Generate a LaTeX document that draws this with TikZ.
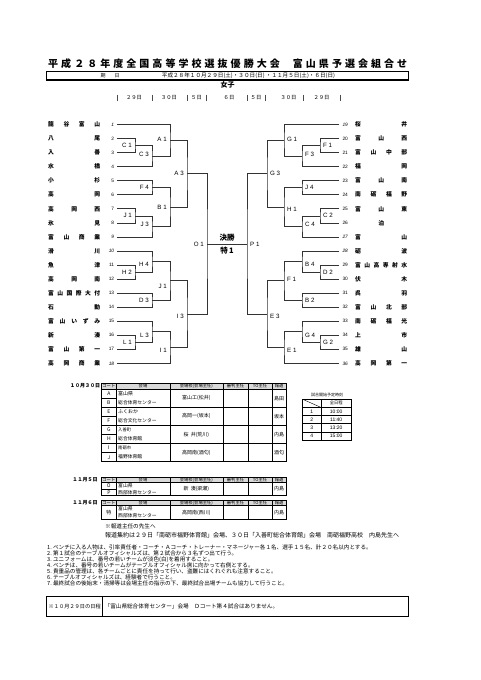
\documentclass[tikz,border=0pt]{standalone}
\usepackage{fontspec}
\setmainfont{Noto Sans CJK JP}
\newfontfamily\lat{Liberation Sans}
\usetikzlibrary{calc}
\def\gobbleone#1{}
\def\spA#1#2{#1\ifx\relax#2\expandafter\gobbleone\else\hfill\fi\spA#2}
\newcommand\spr[1]{\spA#1\relax}
\newcommand\fsz[1]{\fontsize{#1}{#1}\selectfont}
\begin{document}
\begin{tikzpicture}[x=1pt,y=-1pt,
  br/.style={draw=black!80,line width=0.65pt},
  hbar/.style={draw=black!70,line width=0.6pt},
  lname/.style={anchor=west,inner sep=0pt,font=\fsz{5.8}\bfseries},
  numL/.style={anchor=east,inner sep=0pt,font=\lat\fsz{4.8}},
  numR/.style={anchor=west,inner sep=0pt,font=\lat\fsz{4.8}},
  lbl/.style={inner sep=0pt,font=\lat\fsz{6.2}},
  lblL/.style={lbl,anchor=east,xshift=-3pt},
  lblR/.style={lbl,anchor=west,xshift=3pt},
  hd/.style={inner sep=0pt,font=\fsz{5.3}},
  tb/.style={inner sep=0pt,font=\fsz{5}},
  th/.style={inner sep=0pt,font=\fsz{4.3}},
  tl/.style={inner sep=0pt,anchor=west,font=\fsz{4.8}},
  day/.style={inner sep=0pt,anchor=center,font=\fsz{5}\bfseries},
  note/.style={inner sep=0pt,anchor=west,font=\fsz{5.6}},
  outer/.style={draw=black,line width=1.1pt},
  mid/.style={draw=black,line width=0.7pt},
  thin/.style={draw=black,line width=0.4pt}]
\useasboundingbox (0,0) rectangle (481,680);
\fill[white] (0,0) rectangle (481,680);

% ---------- title ----------
\node[anchor=west,inner sep=0pt,font=\fsz{10}\bfseries] (title) at (48,63.5)
  {\makebox[359pt][s]{\spr{平成２８年度全国高等学校選抜優勝大会}\hfill\hspace{7pt}\hfill\spr{富山県予選会組合せ}}};
\draw[outer] (46.7,71.5) rectangle (408.3,80);
\node[inner sep=0pt,font=\fsz{5}] (kijitsu) at (110,75.8) {期\hspace{9pt}日};
\node[inner sep=0pt,font=\fsz{5.6}] (dates) at (248.5,75.8) {平成２８年１０月２９日(土)・３０日(日)\ ・１１月５日(土)・６日(日)};
\node[inner sep=0pt,font=\fsz{7}\bfseries] (joshi) at (227.5,84.5) {女子};

% ---------- day header ----------
\foreach \xx in {117,152,187,206,247,265,303,340} \draw[hbar] (\xx,94.5) -- (\xx,101);
\node[hd] (h29L) at (134,97.7) {２９日};
\node[hd] (h30L) at (169,97.7) {３０日};
\node[hd] (h5L) at (196.5,97.7) {５日};
\node[hd] (h6) at (229,97.7) {６日};
\node[hd] (h5R) at (256,97.7) {５日};
\node[hd] (h30R) at (288.5,97.7) {３０日};
\node[hd] (h29R) at (321.5,97.7) {２９日};

% ---------- teams left ----------
\foreach \k/\nm/\sh in {1/龍谷富山/\itshape,2/八尾/\upshape,3/入善/\upshape,4/水橋/\upshape,5/小杉/\upshape,6/高岡/\upshape,7/高岡西/\upshape,8/氷見/\upshape,9/富山商業/\itshape,10/滑川/\itshape,11/魚津/\upshape,12/高岡南/\upshape,13/富山国際大付/\upshape,14/石動/\upshape,15/富山いずみ/\upshape,16/新湊/\upshape,17/富山第一/\upshape,18/高岡商業/\itshape}{
  \pgfmathsetmacro\yy{124.5+(\k-1)*14.05}
  \coordinate (t\k) at (117,\yy);
  \node[lname] (n\k) at (48,\yy) {\makebox[52pt][s]{\expandafter\spr\expandafter{\nm}}};
  \node[numL] (k\k) at (114.3,\yy) {\sh\k};
}
% ---------- teams right ----------
\foreach \k/\nm/\sh in {19/桜井/\itshape,20/富山西/\upshape,21/富山中部/\upshape,22/福岡/\upshape,23/富山南/\upshape,24/南砺福野/\upshape,25/富山東/\upshape,26/{\hfill 泊\hfill}/\upshape,27/富山/\itshape,28/砺波/\itshape,29/富山高専射水/\upshape,30/伏木/\upshape,31/呉羽/\upshape,32/富山北部/\upshape,33/南砺福光/\upshape,34/上市/\upshape,35/雄山/\upshape,36/高岡第一/\itshape}{
  \pgfmathsetmacro\yy{124.5+(\k-19)*14.05}
  \coordinate (t\k) at (339,\yy);
  \node[lname] (n\k) at (355,\yy) {\makebox[52pt][s]{\expandafter\spr\expandafter{\nm}}};
  \node[numR] (k\k) at (342.3,\yy) {\sh\k};
}

% ---------- match points left ----------
\coordinate (C1) at (135,145.575);
\coordinate (C3) at (152,156.11);
\coordinate (A1) at (170,140.31);
\coordinate (F4) at (152,187.725);
\coordinate (J1) at (135,215.825);
\coordinate (J3) at (152,226.36);
\coordinate (B1) at (170,207.04);
\coordinate (A3) at (187,173.68);
\coordinate (H2) at (135,272.03);
\coordinate (H4) at (152,261.49);
\coordinate (D3) at (152,300.13);
\coordinate (J1b) at (170,280.81);
\coordinate (L1) at (135,342.28);
\coordinate (L3) at (152,331.74);
\coordinate (I1) at (170,347.54);
\coordinate (I3) at (187,314.18);
\coordinate (O1) at (207,243.93);
% ---------- match points right ----------
\coordinate (F1) at (320,145.575);
\coordinate (F3) at (302,156.11);
\coordinate (G1) at (284,140.31);
\coordinate (J4) at (302,187.725);
\coordinate (C2) at (320,215.825);
\coordinate (C4) at (302,226.36);
\coordinate (H1) at (284,207.04);
\coordinate (G3) at (267,173.68);
\coordinate (D2) at (320,272.03);
\coordinate (B4) at (302,261.49);
\coordinate (B2) at (302,300.13);
\coordinate (F1b) at (284,280.81);
\coordinate (G2) at (320,342.28);
\coordinate (G4) at (302,331.74);
\coordinate (E1) at (284,347.54);
\coordinate (E3) at (267,314.18);
\coordinate (P1) at (247,243.93);

% ---------- bracket lines ----------
\draw[br] (t2) -| (C1) |- (t3);
\draw[br] (C1) -| (C3) |- (t4);
\draw[br] (t1) -| (A1) |- (C3);
\draw[br] (t5) -| (F4) |- (t6);
\draw[br] (t7) -| (J1) |- (t8);
\draw[br] (J1) -| (J3) |- (t9);
\draw[br] (F4) -| (B1) |- (J3);
\draw[br] (A1) -| (A3) |- (B1);
\draw[br] (t11) -| (H2) |- (t12);
\draw[br] (t10) -| (H4) |- (H2);
\draw[br] (t13) -| (D3) |- (t14);
\draw[br] (H4) -| (J1b) |- (D3);
\draw[br] (t16) -| (L1) |- (t17);
\draw[br] (t15) -| (L3) |- (L1);
\draw[br] (L3) -| (I1) |- (t18);
\draw[br] (J1b) -| (I3) |- (I1);
\draw[br] (A3) -| (O1) |- (I3);

\draw[br] (t20) -| (F1) |- (t21);
\draw[br] (F1) -| (F3) |- (t22);
\draw[br] (t19) -| (G1) |- (F3);
\draw[br] (t23) -| (J4) |- (t24);
\draw[br] (t25) -| (C2) |- (t26);
\draw[br] (C2) -| (C4) |- (t27);
\draw[br] (J4) -| (H1) |- (C4);
\draw[br] (G1) -| (G3) |- (H1);
\draw[br] (t29) -| (D2) |- (t30);
\draw[br] (t28) -| (B4) |- (D2);
\draw[br] (t31) -| (B2) |- (t32);
\draw[br] (B4) -| (F1b) |- (B2);
\draw[br] (t34) -| (G2) |- (t35);
\draw[br] (t33) -| (G4) |- (G2);
\draw[br] (G4) -| (E1) |- (t36);
\draw[br] (F1b) -| (E3) |- (E1);
\draw[br] (G3) -| (P1) |- (E3);
\draw[br] (O1) -- (P1);

% ---------- match labels ----------
\node[lblL] (lC1) at (C1) {C 1};
\node[lblL,yshift=2pt] (lC3) at (C3) {C 3};
\node[lblL,yshift=1pt] (lA1) at (A1) {A 1};
\node[lblL] (lF4) at (F4) {F 4};
\node[lblL] (lJ1) at (J1) {J 1};
\node[lblL,yshift=2pt] (lJ3) at (J3) {J 3};
\node[lblL] (lB1) at (B1) {B 1};
\node[lblL] (lA3) at (A3) {A 3};
\node[lblL] (lH2) at (H2) {H 2};
\node[lblL,yshift=-3pt] (lH4) at (H4) {H 4};
\node[lblL] (lD3) at (D3) {D 3};
\node[lblL,yshift=-6pt] (lJ1b) at (J1b) {J 1};
\node[lblL] (lL1) at (L1) {L 1};
\node[lblL,yshift=-3.5pt] (lL3) at (L3) {L 3};
\node[lblL,yshift=-3pt] (lI1) at (I1) {I 1};
\node[lblL,yshift=-2pt] (lI3) at (I3) {I 3};
\node[lblL] (lO1) at (O1) {O 1};

\node[lblR] (lF1) at (F1) {F 1};
\node[lblR,yshift=2pt] (lF3) at (F3) {F 3};
\node[lblR,yshift=1pt] (lG1) at (G1) {G 1};
\node[lblR] (lJ4) at (J4) {J 4};
\node[lblR] (lC2) at (C2) {C 2};
\node[lblR,yshift=2pt] (lC4) at (C4) {C 4};
\node[lblR,yshift=-2pt] (lH1) at (H1) {H 1};
\node[lblR] (lG3) at (G3) {G 3};
\node[lblR] (lD2) at (D2) {D 2};
\node[lblR,yshift=-3pt] (lB4) at (B4) {B 4};
\node[lblR] (lB2) at (B2) {B 2};
\node[lblR,yshift=1pt] (lF1b) at (F1b) {F 1};
\node[lblR] (lG2) at (G2) {G 2};
\node[lblR,yshift=-3.5pt] (lG4) at (G4) {G 4};
\node[lblR,yshift=-3pt] (lE1) at (E1) {E 1};
\node[lblR,yshift=-2pt] (lE3) at (E3) {E 3};
\node[lblR] (lP1) at (P1) {P 1};

\node[inner sep=0pt,font=\fsz{7.5}\bfseries] (kessho) at (227,238) {決勝};
\node[inner sep=0pt,font=\fsz{7.5}\bfseries] (toku) at (227,251) {特\,1};

% ---------- table 10/30 ----------
\node[day] (d1030) at (85,386) {１０月３０日};
\fill[gray!30] (101.7,383.3) rectangle (286.7,389);
\foreach \xx in {116,170,222.7,248.3,271.7} \draw[thin] (\xx,383.3) -- (\xx,461.7);
\draw[mid] (101.7,389) -- (286.7,389);
\foreach \yy in {407.175,425.35,443.525} \draw[mid] (101.7,\yy) -- (286.7,\yy);
\foreach \yy in {398.09,416.26,434.44,452.61} \draw[thin] (101.7,\yy) -- (116,\yy);
\draw[outer] (101.7,383.3) rectangle (286.7,461.7);
\node[th] (ha1) at (108.85,386.2) {コート};
\node[th] (ha2) at (143,386.2) {会場};
\node[th] (ha3) at (196.35,386.2) {会場校(会場主任)};
\node[th] (ha4) at (235.5,386.2) {審判主任};
\node[th] (ha5) at (260,386.2) {TO主任};
\node[th] (ha6) at (279.2,386.2) {報道};
\foreach \i/\a/\b/\va/\vb/\fv/\sch/\rep in {0/A/B/富山県/総合体育センター/5/富山工(松井)/島田,1/E/F/ふくおか/総合文化センター/5/高岡一(坂本)/坂本,2/G/H/入善町/総合体育館/4.3/桜\ \ 井(荒川)/内島,3/I/J/南砺市/福野体育館/4.3/高岡南(酒匂)/酒匂}{
  \pgfmathsetmacro\gt{389+\i*18.175}
  \node[tb] (ca\i) at (108.85,\gt+4.6) {\a};
  \node[tb] (cb\i) at (108.85,\gt+13.7) {\b};
  \node[tl,font=\fsz{\fv}] (va\i) at (118,\gt+4.6) {\va};
  \node[tl] (vb\i) at (118,\gt+13.4) {\vb};
  \node[tb] (sc\i) at (196.35,\gt+9.1) {\sch};
  \node[tb] (rp\i) at (279.2,\gt+9.1) {\rep};
}

% ---------- start times ----------
\node[inner sep=0pt,font=\fsz{4}] (sttl) at (327,395) {試合開始予定時刻};
\foreach \yy in {407.3,415.5,423.7,431.9} \draw[mid] (302.7,\yy) -- (351.7,\yy);
\draw[thin] (320.7,399.3) -- (320.7,440.1);
\draw[thin] (302.7,399.3) -- (320.7,407.3);
\draw[outer] (302.7,399.3) rectangle (351.7,440.1);
\node[th] (zen) at (336.2,403.3) {全日程};
\foreach \r/\tm in {1/10:00,2/11:40,3/13:20,4/15:00}{
  \pgfmathsetmacro\ty{407.3+(\r-0.5)*8.2}
  \node[inner sep=0pt,font=\lat\fsz{5}] (rn\r) at (311.7,\ty) {\r};
  \node[inner sep=0pt,font=\lat\fsz{5}] (rt\r) at (336.2,\ty) {\tm};
}

% ---------- table 11/5 ----------
\node[day] (d115) at (85,480.2) {１１月５日};
\fill[gray!30] (101.7,477.7) rectangle (286.7,482.7);
\foreach \xx in {116,170,222.7,248.3,271.7} \draw[thin] (\xx,477.7) -- (\xx,495.3);
\draw[mid] (101.7,482.7) -- (286.7,482.7);
\draw[thin] (101.7,489) -- (116,489);
\draw[outer] (101.7,477.7) rectangle (286.7,495.3);
\node[th] (hb1) at (108.85,480.2) {コート};
\node[th] (hb2) at (143,480.2) {会場};
\node[th] (hb3) at (196.35,480.2) {会場校(会場主任)};
\node[th] (hb4) at (235.5,480.2) {審判主任};
\node[th] (hb5) at (260,480.2) {TO主任};
\node[th] (hb6) at (279.2,480.2) {報道};
\node[tb] (cO) at (108.85,485.9) {O};
\node[tb] (cP) at (108.85,492.2) {P};
\node[tl] (vO1) at (118,485.9) {富山県};
\node[tl] (vO2) at (118,492.2) {西部体育センター};
\node[tb] (scO) at (196.35,489) {新\ \ 湊(梁瀬)};
\node[tb] (rpO) at (279.2,489) {内島};

% ---------- table 11/6 ----------
\node[day] (d116) at (85,503.2) {１１月６日};
\fill[gray!30] (101.7,500.7) rectangle (286.7,505.7);
\foreach \xx in {116,170,222.7,248.3,271.7} \draw[thin] (\xx,500.7) -- (\xx,519.3);
\draw[mid] (101.7,505.7) -- (286.7,505.7);
\draw[outer] (101.7,500.7) rectangle (286.7,519.3);
\node[th] (hc1) at (108.85,503.2) {コート};
\node[th] (hc2) at (143,503.2) {会場};
\node[th] (hc3) at (196.35,503.2) {会場校(会場主任)};
\node[th] (hc4) at (235.5,503.2) {審判主任};
\node[th] (hc5) at (260,503.2) {TO主任};
\node[th] (hc6) at (279.2,503.2) {報道};
\node[tb] (cT) at (108.85,512.5) {特};
\node[tl] (vT1) at (118,509) {富山県};
\node[tl] (vT2) at (118,516) {西部体育センター};
\node[tb] (scT) at (196.35,512.5) {高岡南(西川)};
\node[tb] (rpT) at (279.2,512.5) {内島};

% ---------- notes ----------
\node[note] (nt0) at (105,526) {※報道主任の先生へ};
\node[note,font=\fsz{6}] (nt1) at (105,535.5) {報道集約は２９日「南砺市福野体育館」会場、３０日「入善町総合体育館」会場　南砺福野高校　内島先生へ};
\node[note] (m1) at (47,547) {1.\ ベンチに入る人物は、引率責任者・コーチ・Ａコーチ・トレーナー・マネージャー各１名、選手１５名、計２０名以内とする。};
\node[note] (m2) at (47,553.1) {2.\ 第１試合のテーブルオフィシャルズは、第２試合から３名ずつ出て行う。};
\node[note] (m3) at (47,559.2) {3.\ ユニフォームは、番号の若いチームが淡色(白)を着用すること。};
\node[note] (m4) at (47,565.3) {4.\ ベンチは、番号の若いチームがテーブルオフィシャル席に向かって右側とする。};
\node[note] (m5) at (47,571.4) {5.\ 貴重品の管理は、各チームごとに責任を持って行い、盗難にはくれぐれも注意すること。};
\node[note] (m6) at (47,577.5) {6.\ テーブルオフィシャルズは、経験者で行うこと。};
\node[note] (m7) at (47,583.6) {7.\ 最終試合の後始末・清掃等は会場主任の指示の下、最終試合出場チームも協力して行うこと。};

% ---------- bottom box ----------
\draw[outer] (46.7,596.7) rectangle (408.3,616.7);
\draw[mid] (102.7,596.7) -- (102.7,616.7);
\node[inner sep=0pt,font=\fsz{5.2}] (bx1) at (74.7,606.7) {※１０月２９日の日程};
\node[note] (bx2) at (104.5,606.7) {「富山県総合体育センター」会場　Ｄコート第４試合はありません。};
\end{tikzpicture}
\end{document}
